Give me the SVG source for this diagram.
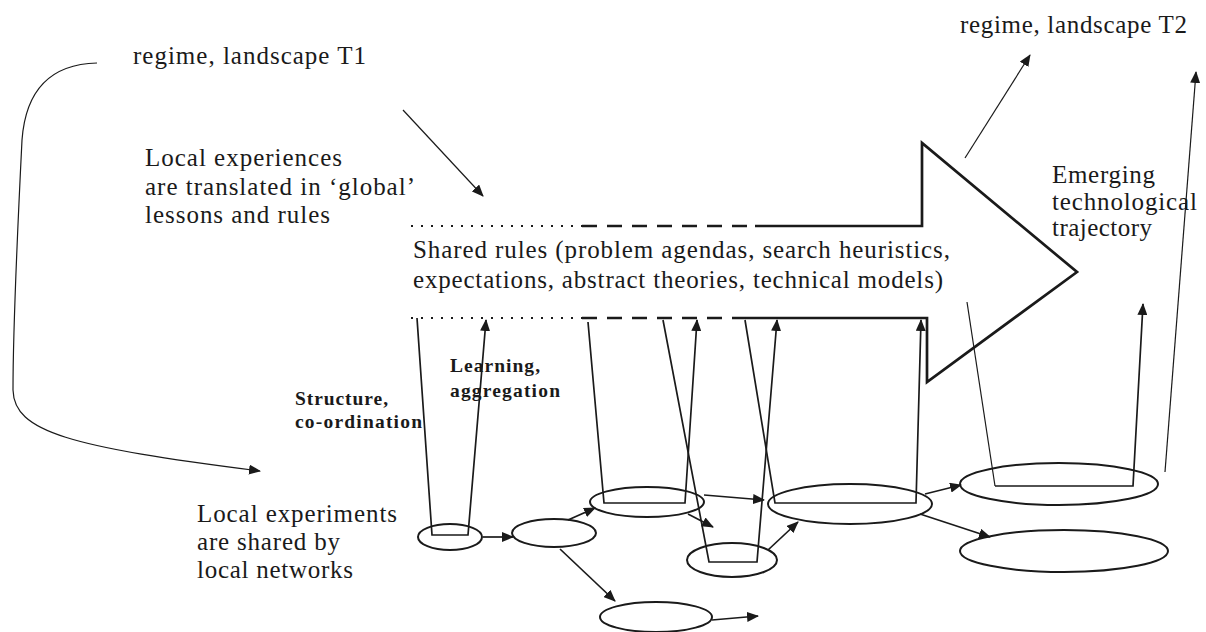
<svg xmlns="http://www.w3.org/2000/svg" width="1206" height="632" viewBox="0 0 1206 632">
<style>
.t{font-family:"Liberation Serif","Times New Roman",serif;font-size:25px;fill:#1a1a1a}
.b{font-family:"Liberation Serif","Times New Roman",serif;font-size:19.5px;font-weight:bold;fill:#1a1a1a}
.c{fill:none;stroke:#1a1a1a;stroke-width:1.7}
.thin{fill:none;stroke:#1a1a1a;stroke-width:1.2}
.ell{fill:none;stroke:#1a1a1a;stroke-width:2}
.arr{fill:none;stroke:#1a1a1a;stroke-width:2.7;stroke-linejoin:miter}
.dot{fill:none;stroke:#1a1a1a;stroke-width:2.2;stroke-dasharray:2 8}
.dash{fill:none;stroke:#1a1a1a;stroke-width:2.5;stroke-dasharray:15 10}
</style>
<defs>
<marker id="ah" viewBox="0 0 12 10" refX="11" refY="5" markerWidth="12" markerHeight="10" markerUnits="userSpaceOnUse" orient="auto"><path d="M0,0 L12,5 L0,10 z" fill="#1a1a1a"/></marker>
</defs>
<rect width="1206" height="632" fill="#ffffff"/>

<g id="shared-rules-arrow">
<path class="dot" d="M411,226 H582"/>
<path class="dash" d="M582,226 H755"/>
<path class="dot" d="M411,318 H582"/>
<path class="dash" d="M582,318 H743"/>
<path class="arr" d="M755,226 H922 V143 L1077,272 L927,382 V318 H743"/>
<text class="t" x="413" y="258" textLength="537" lengthAdjust="spacing">Shared rules (problem agendas, search heuristics,</text>
<text class="t" x="413" y="288" textLength="530" lengthAdjust="spacing">expectations, abstract theories, technical models)</text>
</g>

<g id="label-t1"><text class="t" x="133" y="64" textLength="233" lengthAdjust="spacing">regime, landscape T1</text></g>
<g id="label-t2"><text class="t" x="960" y="33" textLength="227" lengthAdjust="spacing">regime, landscape T2</text></g>
<g id="label-global">
<text class="t" x="145" y="166" textLength="197" lengthAdjust="spacing">Local experiences</text>
<text class="t" x="145" y="195" textLength="270" lengthAdjust="spacing">are translated in ‘global’</text>
<text class="t" x="145" y="223" textLength="185" lengthAdjust="spacing">lessons and rules</text>
</g>
<g id="label-trajectory">
<text class="t" x="1052" y="183" textLength="103" lengthAdjust="spacing">Emerging</text>
<text class="t" x="1052" y="210" textLength="145" lengthAdjust="spacing">technological</text>
<text class="t" x="1052" y="236" textLength="100" lengthAdjust="spacing">trajectory</text>
</g>
<g id="label-structure">
<text class="b" x="295" y="405" textLength="93" lengthAdjust="spacing">Structure,</text>
<text class="b" x="295" y="428" textLength="127" lengthAdjust="spacing">co-ordination</text>
</g>
<g id="label-learning">
<text class="b" x="450" y="372" textLength="90" lengthAdjust="spacing">Learning,</text>
<text class="b" x="450" y="397" textLength="110" lengthAdjust="spacing">aggregation</text>
</g>
<g id="label-local">
<text class="t" x="197" y="522" textLength="200" lengthAdjust="spacing">Local experiments</text>
<text class="t" x="197" y="550" textLength="143" lengthAdjust="spacing">are shared by</text>
<text class="t" x="197" y="578" textLength="156" lengthAdjust="spacing">local networks</text>
</g>

<g id="e1"><ellipse class="ell" cx="450" cy="537" rx="32" ry="13"/></g>
<g id="e2"><ellipse class="ell" cx="554" cy="533" rx="42" ry="14"/></g>
<g id="e3"><ellipse class="ell" cx="656" cy="617" rx="56" ry="15"/></g>
<g id="e4"><ellipse class="ell" cx="647" cy="502" rx="57" ry="15"/></g>
<g id="e5"><ellipse class="ell" cx="732" cy="560" rx="45" ry="17"/></g>
<g id="e6"><ellipse class="ell" cx="850" cy="504" rx="82" ry="20"/></g>
<g id="e7"><ellipse class="ell" cx="1059" cy="484" rx="99" ry="21"/></g>
<g id="e8"><ellipse class="ell" cx="1064" cy="551" rx="104" ry="21"/></g>

<g id="connectors">
<path class="thin" d="M97,63 C55,64 26,86 22,140 C18,220 13,330 13,390 C14,432 70,447 260,471" marker-end="url(#ah)"/>
<line class="thin" x1="403" y1="110" x2="483" y2="196" marker-end="url(#ah)"/>
<line class="thin" x1="965" y1="158" x2="1030" y2="55" marker-end="url(#ah)"/>
<line class="thin" x1="1165" y1="472" x2="1196" y2="72" marker-end="url(#ah)"/>

<polyline class="c" points="417,318 432,535 468,535 486,320" marker-end="url(#ah)"/>
<polyline class="c" points="588,322 604,503 685,503 697,320" marker-end="url(#ah)"/>
<polyline class="c" points="663,320 709,562 757,562 777,320" marker-end="url(#ah)"/>
<polyline class="c" points="745,320 775,503 916,503 921,320" marker-end="url(#ah)"/>
<line class="thin" x1="967" y1="302" x2="995" y2="486"/>
<polyline class="c" points="995,486 1133,486 1143,304" marker-end="url(#ah)"/>

<line class="c" x1="483" y1="537" x2="513" y2="537" marker-end="url(#ah)"/>
<line class="c" x1="568" y1="520" x2="595" y2="508" marker-end="url(#ah)"/>
<line class="c" x1="560" y1="549" x2="615" y2="601" stroke-width="2.3" marker-end="url(#ah)"/>
<line class="c" x1="712" y1="620" x2="758" y2="616" marker-end="url(#ah)"/>
<line class="c" x1="704" y1="495" x2="764" y2="500" marker-end="url(#ah)"/>
<line class="c" x1="688" y1="514" x2="713" y2="527" marker-end="url(#ah)"/>
<line class="c" x1="768" y1="550" x2="798" y2="522" marker-end="url(#ah)"/>
<line class="c" x1="925" y1="494" x2="961" y2="485" marker-end="url(#ah)"/>
<line class="c" x1="920" y1="514" x2="990" y2="537" marker-end="url(#ah)"/>
</g>
</svg>
